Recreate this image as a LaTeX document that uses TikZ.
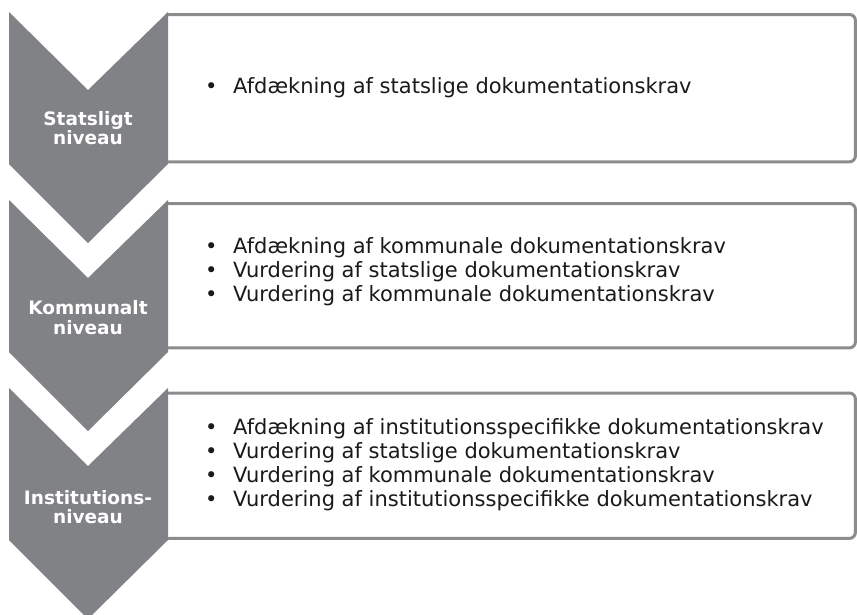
\documentclass[tikz,border=0pt]{standalone}
\usepackage{fontspec}
\setmainfont{DejaVu Sans}
\definecolor{chev}{HTML}{808285}
\definecolor{bord}{HTML}{8C8C8C}
\definecolor{ink}{HTML}{1A1A1A}
\newcommand\itm{\makebox[28pt][l]{•}}
\begin{document}
\begin{tikzpicture}[x=1pt,y=-1pt,
  chevron/.style={fill=chev,draw=none},
  boxline/.style={draw=bord,line width=3pt,rounded corners=6pt},
  boxarea/.style={fill=white,draw=none,inner sep=0pt,anchor=north west},
  lab/.style={text=white,font=\fontsize{18.5pt}{19.5pt}\selectfont\bfseries,align=center,inner sep=0pt},
  items/.style={anchor=west,align=left,font=\fontsize{21pt}{24pt}\selectfont,text=ink,inner sep=0pt}]
\useasboundingbox (0,0) rectangle (857,614);
\clip (0,0) rectangle (857,614);
% boxes
\node[boxarea,minimum width=687pt,minimum height=147pt] (b1) at (168,14.5) {};
\node[boxarea,minimum width=687pt,minimum height=144pt] (b2) at (168,203.5) {};
\node[boxarea,minimum width=687pt,minimum height=145pt] (b3) at (168,393) {};
\foreach \b in {b1,b2,b3}{
  \draw[boxline] (\b.north west) -- (\b.north east) -- (\b.south east) -- (\b.south west);
}
% chevrons
\foreach \t in {12,200,388}{
  \fill[chevron] (9,\t) -- (88,{\t+78}) -- (168,\t) -- (168,{\t+152}) -- (88,{\t+231}) -- (9,{\t+152}) -- cycle;
}
\node[lab] (c1) at (88,128) {Statsligt\\niveau};
\node[lab] (c2) at (88,317.5) {Kommunalt\\niveau};
\node[lab] (c3) at (88,507) {Institutions-\\niveau};
% items
\node[items] (t1) at (205,88) {\itm Afdækning af statslige dokumentationskrav};
\node[items] (t2) at (205,272) {\itm Afdækning af kommunale dokumentationskrav\\\itm Vurdering af statslige dokumentationskrav\\\itm Vurdering af kommunale dokumentationskrav};
\node[items] (t3) at (205,464.5) {\itm Afdækning af institutionsspecifikke dokumentationskrav\\\itm Vurdering af statslige dokumentationskrav\\\itm Vurdering af kommunale dokumentationskrav\\\itm Vurdering af institutionsspecifikke dokumentationskrav};
\end{tikzpicture}
\end{document}
